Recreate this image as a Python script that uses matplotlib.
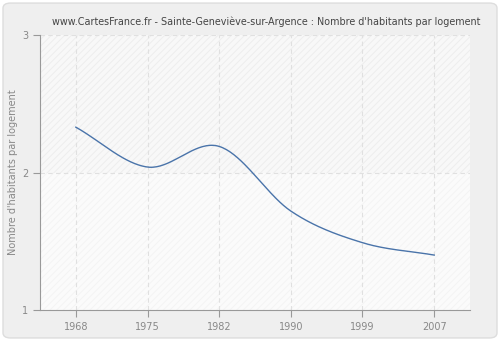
import numpy as np
import matplotlib
matplotlib.use("Agg")
import matplotlib.pyplot as plt
from matplotlib.patches import FancyBboxPatch, Rectangle

years = ["1968", "1975", "1982", "1990", "1999", "2007"]
values = [2.33, 2.04, 2.19, 1.72, 1.49, 1.40]
title = "www.CartesFrance.fr - Sainte-Geneviève-sur-Argence : Nombre d'habitants par logement"
ylabel = "Nombre d'habitants par logement"


def catmull_rom(y, steps=40):
    # smooth curve through the points (rendering only)
    p = np.concatenate([[2 * y[0] - y[1]], y, [2 * y[-1] - y[-2]]])
    xs, ys = [], []
    for i in range(1, len(p) - 2):
        t = np.linspace(0, 1, steps)
        p0, p1, p2, p3 = p[i - 1], p[i], p[i + 1], p[i + 2]
        seg = 0.5 * ((2 * p1) + (-p0 + p2) * t + (2 * p0 - 5 * p1 + 4 * p2 - p3) * t ** 2
                     + (-p0 + 3 * p1 - 3 * p2 + p3) * t ** 3)
        xs.append(i - 1 + t)
        ys.append(seg)
    return np.concatenate(xs), np.concatenate(ys)


fig = plt.figure(figsize=(5, 3.4), dpi=100)
fig.patch.set_facecolor("white")
bg = FancyBboxPatch((0.006, 0.006), 0.988, 0.985, boxstyle="round,pad=0,rounding_size=0.015",
                    transform=fig.transFigure, facecolor="#efefef", edgecolor="#dddddd", lw=1,
                    zorder=-10)
fig.patches.append(bg)

ax = fig.add_axes([0.08, 0.088, 0.86, 0.809])
ax.set_facecolor("#fafafa")
x = np.arange(len(years))
ax.set_xlim(-0.5, len(years) - 0.5)
ax.set_ylim(1, 3)

# hatched background bands
plt.rcParams["hatch.linewidth"] = 0.6
ax.add_patch(Rectangle((-0.5, 2), len(years), 1, facecolor="#f8f8f8", edgecolor="#ececec",
                       hatch="/////", lw=0, zorder=0))
ax.add_patch(Rectangle((-0.5, 1), len(years), 1, facecolor="#fbfbfb", edgecolor="#f3f3f3",
                       hatch="/////", lw=0, zorder=0))

for xi in x:
    ax.axvline(xi, color="#e0e0e0", lw=0.8, ls=(0, (4, 3)), zorder=1)
for yv in [2, 3]:
    ax.axhline(yv, color="#e0e0e0", lw=0.8, ls=(0, (4, 3)), zorder=1)

cx, cy = catmull_rom(np.array(values))
ax.plot(cx, cy, color="#4a74aa", lw=1, zorder=3)

ax.set_xticks(x)
ax.set_xticklabels(years)
ax.set_yticks([1, 2, 3])
ax.tick_params(colors="#999999", labelcolor="#888888", labelsize=7, length=5, width=0.8)
for s in ["top", "right"]:
    ax.spines[s].set_visible(False)
for s in ["left", "bottom"]:
    ax.spines[s].set_color("#999999")
    ax.spines[s].set_linewidth(0.8)
ax.set_ylabel(ylabel, color="#888888", fontsize=7)
ax.yaxis.set_label_coords(-0.05, 0.5)

fig.text(0.533, 0.935, title, ha="center", va="center", fontsize=6.9, color="#444444")

fig.savefig("out.png", dpi=100, facecolor=fig.get_facecolor())
